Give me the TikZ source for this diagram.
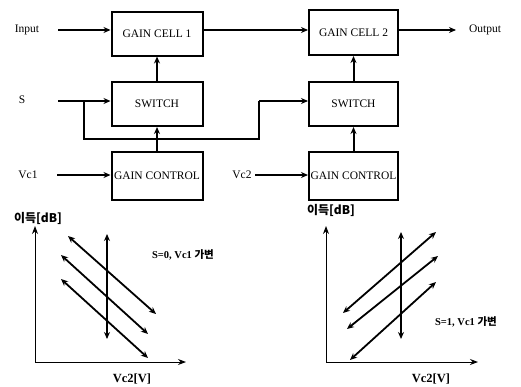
\documentclass[tikz,border=0pt]{standalone}
\usepackage{fontspec}
\setmainfont{Liberation Serif}
\newfontfamily\kr{Noto Sans CJK KR}
\usetikzlibrary{arrows.meta}
\begin{document}
\begin{tikzpicture}[x=1pt,y=-1pt,
  blk/.style={draw,line width=2pt,minimum width=91pt,minimum height=44pt,inner sep=0pt,font=\fontsize{11.5}{13}\selectfont},
  lbl/.style={inner sep=0pt,font=\fontsize{11.5}{13}\selectfont},
  arr/.style={line width=2pt,-{Stealth[length=7pt,width=6pt]}},
  ln/.style={line width=2pt},
  ax/.style={line width=1pt,-{Stealth[length=8pt,width=6pt]}},
  dbl/.style={line width=1.8pt,{Stealth[length=7pt,width=6pt]}-{Stealth[length=7pt,width=6pt]}},
  glbl/.style={inner sep=0pt,font=\fontsize{10.5}{12}\selectfont\bfseries},
  xlbl/.style={inner sep=0pt,font=\fontsize{12.5}{14}\selectfont\bfseries},
  klbl/.style={inner sep=0pt,font=\fontsize{12}{14}\selectfont\kr\bfseries}]
\useasboundingbox (0,0) rectangle (521,386);
% blocks
\node[blk] (gc1) at (157,33.5) {GAIN CELL 1};
\node[blk] (sw1) at (157,104) {SWITCH};
\node[blk,minimum height=48pt] (ct1) at (157,176) {GAIN CONTROL};
\node[blk,minimum width=89pt,minimum height=45pt] (gc2) at (353.5,32.5) {GAIN CELL 2};
\node[blk,minimum width=89pt] (sw2) at (353.5,104) {SWITCH};
\node[blk,minimum width=89pt,minimum height=48pt] (ct2) at (353.5,176) {GAIN CONTROL};
% labels
\node[lbl] (in) at (27,30) {Input};
\node[lbl] (s) at (22,100) {S};
\node[lbl] (vc1) at (28,175) {Vc1};
\node[lbl] (vc2) at (242,175) {Vc2};
\node[lbl] (out) at (485,30) {Output};
% connector points
\coordinate (inS) at (58,30);
\coordinate (sS) at (58,101);
\coordinate (vc1S) at (57,175);
\coordinate (vc2S) at (255,175);
\coordinate (br) at (84,101);
\coordinate (bd) at (84,139);
\coordinate (be) at (259,139);
\coordinate (bu) at (259,101);
\coordinate (outE) at (456,30);
% connectors
\draw[arr] (inS) -- (gc1.west|-inS);
\draw[arr] (sS) -- (sw1.west|-sS);
\draw[arr] (vc1S) -- (ct1.west|-vc1S);
\draw[arr] (vc2S) -- (ct2.west|-vc2S);
\draw[arr] (gc1.east|-inS) -- (gc2.west|-inS);
\draw[arr] (gc2.east|-outE) -- (outE);
\draw[arr] (ct1) -- (sw1);
\draw[arr] (sw1) -- (gc1);
\draw[arr] (ct2) -- (sw2);
\draw[arr] (sw2) -- (gc2);
\draw[ln,line join=miter] (br) -- (bd) -- (be) -- (bu);
\draw[arr] (bu) -- (sw2.west|-bu);
% graph 1
\coordinate (o1) at (35,362);
\coordinate (y1) at (35,226);
\coordinate (x1) at (186,362);
\draw[ax] (o1) -- (y1);
\draw[ax] (o1) -- (x1);
\node[klbl] (yl1) at (38,218) {이득[dB]};
\node[xlbl] (xl1) at (132,379) {Vc2[V]};
\node[glbl] (t1) at (183,255) {S=0, Vc1 {\kr 가변}};
\coordinate (a1) at (68,236); \coordinate (b1) at (156,314);
\coordinate (a2) at (61,255); \coordinate (b2) at (148,334);
\coordinate (a3) at (61,279); \coordinate (b3) at (148,358);
\coordinate (v1a) at (107,234); \coordinate (v1b) at (107,339);
\draw[dbl] (a1) -- (b1);
\draw[dbl] (a2) -- (b2);
\draw[dbl] (a3) -- (b3);
\draw[dbl,line width=2.4pt] (v1a) -- (v1b);
% graph 2
\coordinate (o2) at (326,362);
\coordinate (y2) at (326,226);
\coordinate (x2) at (478,362);
\draw[ax] (o2) -- (y2);
\draw[ax] (o2) -- (x2);
\node[klbl] (yl2) at (331,210) {이득[dB]};
\node[xlbl] (xl2) at (431,379) {Vc2[V]};
\node[glbl] (t2) at (466,322) {S=1, Vc1 {\kr 가변}};
\coordinate (c1) at (343,313); \coordinate (d1) at (436,232);
\coordinate (c2) at (347,329); \coordinate (d2) at (438,256);
\coordinate (c3) at (350,360); \coordinate (d3) at (436,282);
\coordinate (v2a) at (401,232); \coordinate (v2b) at (401,339);
\draw[dbl] (c1) -- (d1);
\draw[dbl] (c2) -- (d2);
\draw[dbl] (c3) -- (d3);
\draw[dbl,line width=2.4pt] (v2a) -- (v2b);
\end{tikzpicture}
\end{document}
